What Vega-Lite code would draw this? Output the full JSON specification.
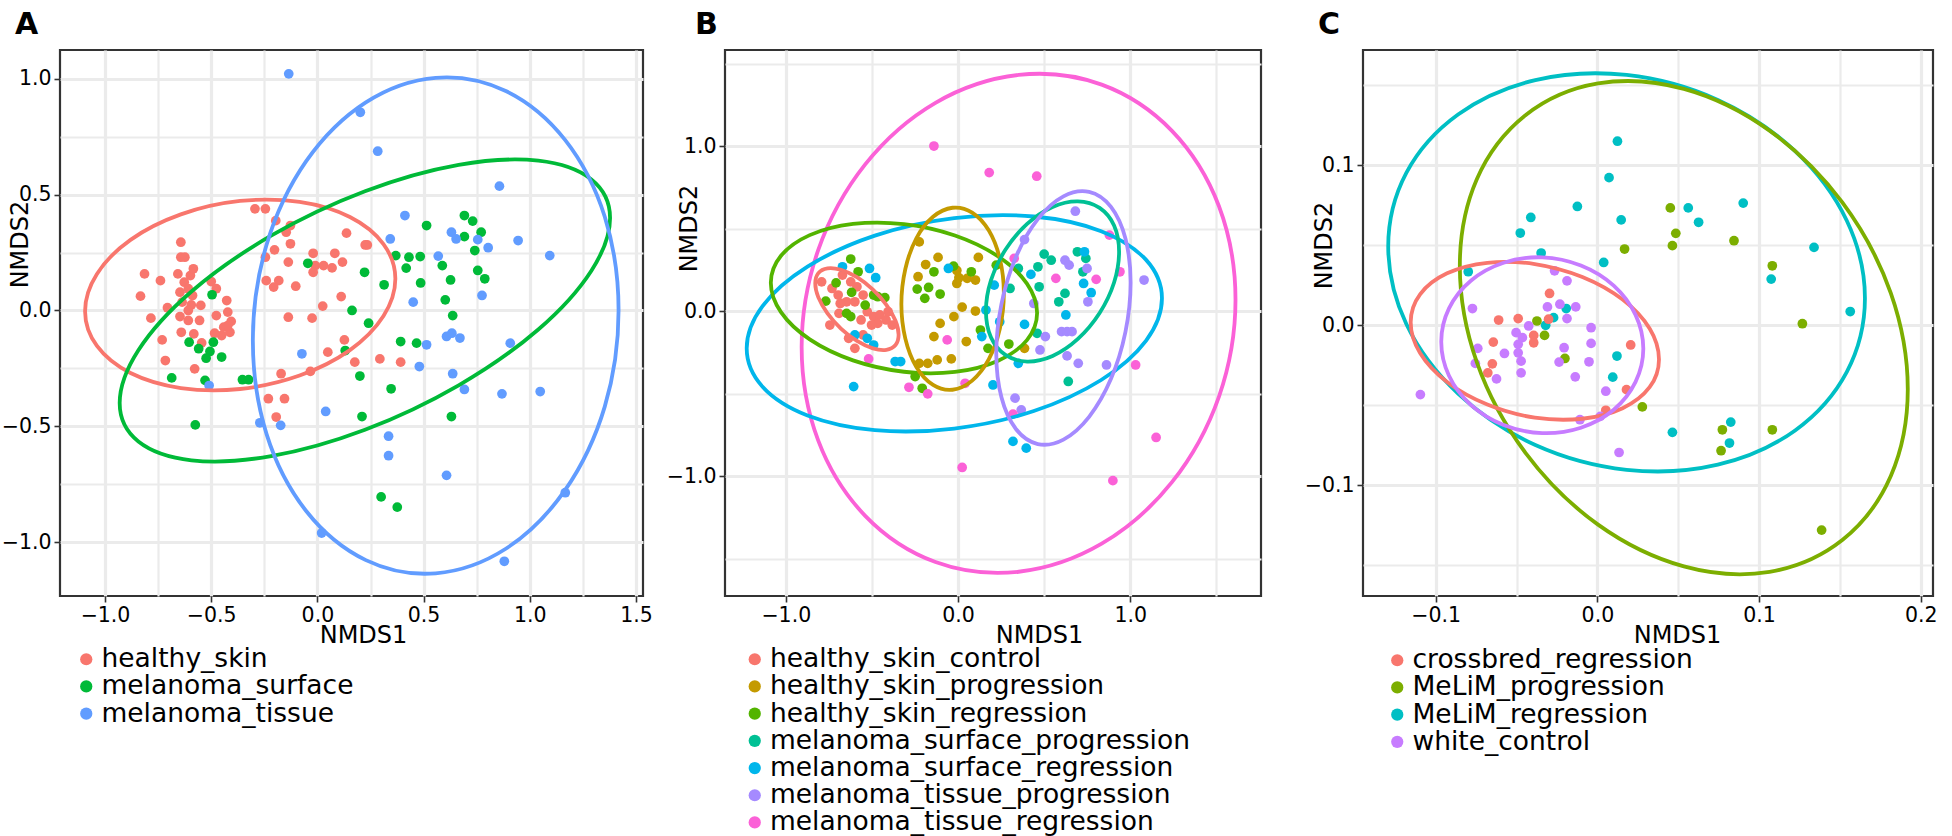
{
"$schema":"https://vega.github.io/schema/vega-lite/v6.json",
"padding":{"left":0,"top":8,"right":0,"bottom":0},
"config":{"font":"DejaVu Sans","view":{"stroke":"#333333","strokeWidth":2.2},
"axis":{"domain":false,"gridColor":"#EBEBEB","tickColor":"#333333","tickWidth":1.6,"tickSize":6,"labelFontSize":20.5,"labelColor":"#000000","titleFontSize":24,"titleFontWeight":"normal","titleColor":"#000000","labelPadding":3,"labelFlush":false,"labelOverlap":false},
"axisX":{"labelPadding":3},
"legend":{"labelFontSize":26.5,"symbolType":"circle","symbolSize":150,"rowPadding":0.2,"labelOffset":2,"padding":0,"labelColor":"#000000","symbolStrokeWidth":0,"symbolOpacity":1,"labelLimit":1000}},
"spacing":82,"bounds":"flush",
"resolve":{"scale":{"color":"independent","stroke":"independent","x":"independent","y":"independent"},"legend":{"color":"independent"}},
"hconcat":[
{"width":583,"height":546,
"title":{"text":"A","anchor":"start","frame":"group","dx":-45,"offset":10,"fontSize":30,"fontWeight":"bold","color":"#000000"},
"layer":[
{"data":{"name":"ptsA"},"mark":{"type":"point","filled":true,"opacity":1,"size":95},
"encoding":{
"x":{"field":"x","type":"quantitative","title":"NMDS1","scale":{"domain":[-1.212,1.533],"nice":false,"zero":false},
"axis":{"values":[-1,-0.75,-0.5,-0.25,0,0.25,0.5,0.75,1,1.25,1.5],"format":".1f","labelExpr":"abs(datum.value*2-round(datum.value*2))<0.001 ? datum.label : ''","gridWidth":{"condition":{"test":"abs(datum.value*2-round(datum.value*2))<0.001","value":3.2},"value":2.2},"tickOpacity":{"condition":{"test":"abs(datum.value*2-round(datum.value*2))<0.001","value":1},"value":0},"titleX":303,"titleY":46,"titleBaseline":"alphabetic"}},
"y":{"field":"y","type":"quantitative","title":"NMDS2","scale":{"domain":[-1.233,1.125],"nice":false,"zero":false},
"axis":{"values":[-1,-0.75,-0.5,-0.25,0,0.25,0.5,0.75,1],"format":".1f","labelExpr":"abs(datum.value*2-round(datum.value*2))<0.001 ? datum.label : ''","gridWidth":{"condition":{"test":"abs(datum.value*2-round(datum.value*2))<0.001","value":3.2},"value":2.2},"tickOpacity":{"condition":{"test":"abs(datum.value*2-round(datum.value*2))<0.001","value":1},"value":0},"titleX":-40,"titleY":194,"titleAngle":270,"titleBaseline":"middle"}},
"color":{"field":"group","type":"nominal","scale":{"domain":["healthy_skin","melanoma_surface","melanoma_tissue"],"range":["#F8766D","#00BA38","#619CFF"]},"legend":{"title":null,"orient":"none","legendX":13,"legendY":596}}}},
{"data":{"name":"ellA"},"mark":{"type":"line","interpolate":"cardinal-closed","strokeWidth":3.8,"clip":true},
"encoding":{"x":{"field":"x","type":"quantitative","title":"NMDS1"},"y":{"field":"y","type":"quantitative","title":"NMDS2"},
"stroke":{"field":"group","type":"nominal","scale":{"domain":["healthy_skin","melanoma_surface","melanoma_tissue"],"range":["#F8766D","#00BA38","#619CFF"]},"legend":null},
"order":{"field":"i","type":"quantitative"}}}
]},
{"hconcat":[
{"width":536,"height":546,
"title":{"text":"B","anchor":"start","frame":"group","dx":-30,"offset":10,"fontSize":30,"fontWeight":"bold","color":"#000000"},
"layer":[
{"data":{"name":"ptsB"},"mark":{"type":"point","filled":true,"opacity":1,"size":95},
"encoding":{
"x":{"field":"x","type":"quantitative","title":"NMDS1","scale":{"domain":[-1.353,1.759],"nice":false,"zero":false},
"axis":{"values":[-1,-0.5,0,0.5,1,1.5],"format":".1f","labelExpr":"abs(datum.value-round(datum.value))<0.001 ? datum.label : ''","gridWidth":{"condition":{"test":"abs(datum.value-round(datum.value))<0.001","value":3.2},"value":2.2},"tickOpacity":{"condition":{"test":"abs(datum.value-round(datum.value))<0.001","value":1},"value":0},"titleX":314,"titleY":46,"titleBaseline":"alphabetic"}},
"y":{"field":"y","type":"quantitative","title":"NMDS2","scale":{"domain":[-1.727,1.582],"nice":false,"zero":false},
"axis":{"values":[-1.5,-1,-0.5,0,0.5,1,1.5],"format":".1f","labelExpr":"abs(datum.value-round(datum.value))<0.001 ? datum.label : ''","gridWidth":{"condition":{"test":"abs(datum.value-round(datum.value))<0.001","value":3.2},"value":2.2},"tickOpacity":{"condition":{"test":"abs(datum.value-round(datum.value))<0.001","value":1},"value":0},"titleX":-36,"titleY":178,"titleAngle":270,"titleBaseline":"middle"}},
"color":{"field":"group","type":"nominal","scale":{"domain":["healthy_skin_control","healthy_skin_progression","healthy_skin_regression","melanoma_surface_progression","melanoma_surface_regression","melanoma_tissue_progression","melanoma_tissue_regression"],"range":["#F8766D","#C49A00","#53B400","#00C094","#00B6EB","#A58AFF","#FB61D7"]},"legend":{"title":null,"orient":"none","legendX":16.5,"legendY":596}}}},
{"data":{"name":"ellB"},"mark":{"type":"line","interpolate":"cardinal-closed","strokeWidth":3.8,"clip":true},
"encoding":{"x":{"field":"x","type":"quantitative","title":"NMDS1"},"y":{"field":"y","type":"quantitative","title":"NMDS2"},
"stroke":{"field":"group","type":"nominal","scale":{"domain":["healthy_skin_control","healthy_skin_progression","healthy_skin_regression","melanoma_surface_progression","melanoma_surface_regression","melanoma_tissue_progression","melanoma_tissue_regression"],"range":["#F8766D","#C49A00","#53B400","#00C094","#00B6EB","#A58AFF","#FB61D7"]},"legend":null},
"order":{"field":"i","type":"quantitative"}}}
]},
{"width":570,"height":546,
"title":{"text":"C","anchor":"start","frame":"group","dx":-45,"offset":10,"fontSize":30,"fontWeight":"bold","color":"#000000"},
"layer":[
{"data":{"name":"ptsC"},"mark":{"type":"point","filled":true,"opacity":1,"size":95},
"encoding":{
"x":{"field":"x","type":"quantitative","title":"NMDS1","scale":{"domain":[-0.145,0.2076],"nice":false,"zero":false},
"axis":{"values":[-0.1,-0.05,0,0.05,0.1,0.15,0.2],"format":".1f","labelExpr":"abs(datum.value*10-round(datum.value*10))<0.001 ? datum.label : ''","gridWidth":{"condition":{"test":"abs(datum.value*10-round(datum.value*10))<0.001","value":3.2},"value":2.2},"tickOpacity":{"condition":{"test":"abs(datum.value*10-round(datum.value*10))<0.001","value":1},"value":0},"titleX":314,"titleY":46,"titleBaseline":"alphabetic"}},
"y":{"field":"y","type":"quantitative","title":"NMDS2","scale":{"domain":[-0.1692,0.1721],"nice":false,"zero":false},
"axis":{"values":[-0.15,-0.1,-0.05,0,0.05,0.1,0.15],"format":".1f","labelExpr":"abs(datum.value*10-round(datum.value*10))<0.001 ? datum.label : ''","gridWidth":{"condition":{"test":"abs(datum.value*10-round(datum.value*10))<0.001","value":3.2},"value":2.2},"tickOpacity":{"condition":{"test":"abs(datum.value*10-round(datum.value*10))<0.001","value":1},"value":0},"titleX":-39,"titleY":195,"titleAngle":270,"titleBaseline":"middle"}},
"color":{"field":"group","type":"nominal","scale":{"domain":["crossbred_regression","MeLiM_progression","MeLiM_regression","white_control"],"range":["#F8766D","#7CAE00","#00BFC4","#C77CFF"]},"legend":{"title":null,"orient":"none","legendX":21,"legendY":597}}}},
{"data":{"name":"ellC"},"mark":{"type":"line","interpolate":"cardinal-closed","strokeWidth":3.8,"clip":true},
"encoding":{"x":{"field":"x","type":"quantitative","title":"NMDS1"},"y":{"field":"y","type":"quantitative","title":"NMDS2"},
"stroke":{"field":"group","type":"nominal","scale":{"domain":["crossbred_regression","MeLiM_progression","MeLiM_regression","white_control"],"range":["#F8766D","#7CAE00","#00BFC4","#C77CFF"]},"legend":null},
"order":{"field":"i","type":"quantitative"}}}
]}
],"spacing":102,"bounds":"flush",
"resolve":{"scale":{"color":"independent","stroke":"independent","x":"independent","y":"independent"},"legend":{"color":"independent"}}}
],
"datasets":{
"ptsA":[
{"group":"healthy_skin","x":-0.294,"y":0.439},{"group":"healthy_skin","x":-0.245,"y":0.439},{"group":"healthy_skin","x":-0.196,"y":0.388},{"group":"healthy_skin","x":-0.147,"y":0.338},{"group":"healthy_skin","x":-0.127,"y":0.367},{"group":"healthy_skin","x":-0.127,"y":0.288},{"group":"healthy_skin","x":0.137,"y":0.334},{"group":"healthy_skin","x":0.235,"y":0.283},{"group":"healthy_skin","x":0.225,"y":0.283},{"group":"healthy_skin","x":-0.202,"y":0.262},{"group":"healthy_skin","x":-0.245,"y":0.23},{"group":"healthy_skin","x":-0.02,"y":0.247},{"group":"healthy_skin","x":0.082,"y":0.247},{"group":"healthy_skin","x":-0.137,"y":0.209},{"group":"healthy_skin","x":-0.01,"y":0.194},{"group":"healthy_skin","x":0.029,"y":0.194},{"group":"healthy_skin","x":0.069,"y":0.184},{"group":"healthy_skin","x":0.118,"y":0.209},{"group":"healthy_skin","x":-0.02,"y":0.165},{"group":"healthy_skin","x":-0.241,"y":0.129},{"group":"healthy_skin","x":-0.182,"y":0.129},{"group":"healthy_skin","x":-0.206,"y":0.101},{"group":"healthy_skin","x":-0.102,"y":0.105},{"group":"healthy_skin","x":0.112,"y":0.06},{"group":"healthy_skin","x":0.025,"y":0.019},{"group":"healthy_skin","x":-0.137,"y":-0.029},{"group":"healthy_skin","x":-0.025,"y":-0.033},{"group":"healthy_skin","x":0.127,"y":-0.127},{"group":"healthy_skin","x":0.049,"y":-0.18},{"group":"healthy_skin","x":0.176,"y":-0.223},{"group":"healthy_skin","x":0.294,"y":-0.209},{"group":"healthy_skin","x":0.392,"y":-0.223},{"group":"healthy_skin","x":-0.033,"y":-0.263},{"group":"healthy_skin","x":-0.171,"y":-0.273},{"group":"healthy_skin","x":-0.231,"y":-0.381},{"group":"healthy_skin","x":-0.155,"y":-0.381},{"group":"healthy_skin","x":-0.194,"y":-0.46},
{"group":"healthy_skin","x":-0.643,"y":0.295},{"group":"healthy_skin","x":-0.643,"y":0.23},{"group":"healthy_skin","x":-0.624,"y":0.23},{"group":"healthy_skin","x":-0.814,"y":0.158},{"group":"healthy_skin","x":-0.739,"y":0.129},{"group":"healthy_skin","x":-0.657,"y":0.158},{"group":"healthy_skin","x":-0.598,"y":0.151},{"group":"healthy_skin","x":-0.584,"y":0.18},{"group":"healthy_skin","x":-0.627,"y":0.122},{"group":"healthy_skin","x":-0.608,"y":0.094},{"group":"healthy_skin","x":-0.647,"y":0.079},{"group":"healthy_skin","x":-0.588,"y":0.065},{"group":"healthy_skin","x":-0.833,"y":0.062},{"group":"healthy_skin","x":-0.706,"y":0.012},{"group":"healthy_skin","x":-0.637,"y":0.036},{"group":"healthy_skin","x":-0.594,"y":0.024},{"group":"healthy_skin","x":-0.549,"y":0.022},{"group":"healthy_skin","x":-0.608,"y":0.0},{"group":"healthy_skin","x":-0.5,"y":0.125},{"group":"healthy_skin","x":-0.476,"y":0.094},{"group":"healthy_skin","x":-0.427,"y":0.043},{"group":"healthy_skin","x":-0.784,"y":-0.033},{"group":"healthy_skin","x":-0.647,"y":-0.026},{"group":"healthy_skin","x":-0.608,"y":-0.043},{"group":"healthy_skin","x":-0.555,"y":-0.043},{"group":"healthy_skin","x":-0.476,"y":-0.022},{"group":"healthy_skin","x":-0.422,"y":-0.007},{"group":"healthy_skin","x":-0.406,"y":-0.047},{"group":"healthy_skin","x":-0.441,"y":-0.072},{"group":"healthy_skin","x":-0.412,"y":-0.094},{"group":"healthy_skin","x":-0.451,"y":-0.108},{"group":"healthy_skin","x":-0.641,"y":-0.094},{"group":"healthy_skin","x":-0.582,"y":-0.101},{"group":"healthy_skin","x":-0.484,"y":-0.098},{"group":"healthy_skin","x":-0.731,"y":-0.127},{"group":"healthy_skin","x":-0.545,"y":-0.14},{"group":"healthy_skin","x":-0.716,"y":-0.216},{"group":"healthy_skin","x":-0.578,"y":-0.252},{"group":"healthy_skin","x":-0.422,"y":-0.065},
{"group":"melanoma_surface","x":0.692,"y":0.41},{"group":"melanoma_surface","x":0.731,"y":0.386},{"group":"melanoma_surface","x":0.771,"y":0.338},{"group":"melanoma_surface","x":0.692,"y":0.319},{"group":"melanoma_surface","x":0.514,"y":0.367},{"group":"melanoma_surface","x":0.369,"y":0.237},{"group":"melanoma_surface","x":0.431,"y":0.23},{"group":"melanoma_surface","x":0.484,"y":0.233},{"group":"melanoma_surface","x":0.588,"y":0.194},{"group":"melanoma_surface","x":0.418,"y":0.183},{"group":"melanoma_surface","x":0.741,"y":0.259},{"group":"melanoma_surface","x":0.755,"y":0.173},{"group":"melanoma_surface","x":0.788,"y":0.137},{"group":"melanoma_surface","x":0.627,"y":0.132},{"group":"melanoma_surface","x":0.486,"y":0.119},{"group":"melanoma_surface","x":0.222,"y":0.165},{"group":"melanoma_surface","x":-0.045,"y":0.204},{"group":"melanoma_surface","x":0.314,"y":0.111},{"group":"melanoma_surface","x":0.602,"y":0.046},{"group":"melanoma_surface","x":0.163,"y":0.0},{"group":"melanoma_surface","x":0.637,"y":-0.022},{"group":"melanoma_surface","x":0.241,"y":-0.055},{"group":"melanoma_surface","x":-0.496,"y":0.068},{"group":"melanoma_surface","x":0.392,"y":-0.134},{"group":"melanoma_surface","x":0.467,"y":-0.141},{"group":"melanoma_surface","x":0.131,"y":-0.173},{"group":"melanoma_surface","x":-0.604,"y":-0.137},{"group":"melanoma_surface","x":-0.559,"y":-0.165},{"group":"melanoma_surface","x":-0.49,"y":-0.137},{"group":"melanoma_surface","x":-0.506,"y":-0.177},{"group":"melanoma_surface","x":-0.524,"y":-0.206},{"group":"melanoma_surface","x":-0.451,"y":-0.201},{"group":"melanoma_surface","x":0.2,"y":-0.283},{"group":"melanoma_surface","x":-0.686,"y":-0.291},{"group":"melanoma_surface","x":-0.529,"y":-0.302},{"group":"melanoma_surface","x":-0.353,"y":-0.299},{"group":"melanoma_surface","x":-0.324,"y":-0.299},{"group":"melanoma_surface","x":0.347,"y":-0.338},{"group":"melanoma_surface","x":0.21,"y":-0.458},{"group":"melanoma_surface","x":0.631,"y":-0.458},{"group":"melanoma_surface","x":-0.575,"y":-0.494},{"group":"melanoma_surface","x":0.3,"y":-0.805},{"group":"melanoma_surface","x":0.376,"y":-0.849},
{"group":"melanoma_tissue","x":-0.135,"y":1.022},{"group":"melanoma_tissue","x":0.202,"y":0.856},{"group":"melanoma_tissue","x":0.284,"y":0.688},{"group":"melanoma_tissue","x":0.857,"y":0.537},{"group":"melanoma_tissue","x":0.412,"y":0.41},{"group":"melanoma_tissue","x":0.343,"y":0.309},{"group":"melanoma_tissue","x":0.631,"y":0.338},{"group":"melanoma_tissue","x":0.653,"y":0.309},{"group":"melanoma_tissue","x":0.755,"y":0.306},{"group":"melanoma_tissue","x":0.804,"y":0.271},{"group":"melanoma_tissue","x":0.945,"y":0.302},{"group":"melanoma_tissue","x":1.094,"y":0.237},{"group":"melanoma_tissue","x":0.569,"y":0.235},{"group":"melanoma_tissue","x":0.775,"y":0.065},{"group":"melanoma_tissue","x":0.451,"y":0.036},{"group":"melanoma_tissue","x":0.608,"y":-0.112},{"group":"melanoma_tissue","x":0.633,"y":-0.098},{"group":"melanoma_tissue","x":0.671,"y":-0.119},{"group":"melanoma_tissue","x":0.514,"y":-0.148},{"group":"melanoma_tissue","x":0.908,"y":-0.141},{"group":"melanoma_tissue","x":-0.073,"y":-0.187},{"group":"melanoma_tissue","x":0.48,"y":-0.242},{"group":"melanoma_tissue","x":0.637,"y":-0.273},{"group":"melanoma_tissue","x":0.692,"y":-0.341},{"group":"melanoma_tissue","x":0.869,"y":-0.36},{"group":"melanoma_tissue","x":1.049,"y":-0.35},{"group":"melanoma_tissue","x":-0.51,"y":-0.324},{"group":"melanoma_tissue","x":0.039,"y":-0.436},{"group":"melanoma_tissue","x":-0.271,"y":-0.485},{"group":"melanoma_tissue","x":-0.173,"y":-0.496},{"group":"melanoma_tissue","x":0.335,"y":-0.543},{"group":"melanoma_tissue","x":0.335,"y":-0.627},{"group":"melanoma_tissue","x":0.608,"y":-0.712},{"group":"melanoma_tissue","x":1.167,"y":-0.787},{"group":"melanoma_tissue","x":0.02,"y":-0.961},{"group":"melanoma_tissue","x":0.88,"y":-1.083}
],
"ellA":[
{"group":"healthy_skin","i":0,"x":0.367,"y":0.137},{"group":"healthy_skin","i":1,"x":0.311,"y":0.287},{"group":"healthy_skin","i":2,"x":0.153,"y":0.404},{"group":"healthy_skin","i":3,"x":-0.084,"y":0.469},{"group":"healthy_skin","i":4,"x":-0.364,"y":0.473},{"group":"healthy_skin","i":5,"x":-0.643,"y":0.415},{"group":"healthy_skin","i":6,"x":-0.88,"y":0.305},{"group":"healthy_skin","i":7,"x":-1.038,"y":0.158},{"group":"healthy_skin","i":8,"x":-1.094,"y":-0.003},{"group":"healthy_skin","i":9,"x":-1.038,"y":-0.153},{"group":"healthy_skin","i":10,"x":-0.88,"y":-0.27},{"group":"healthy_skin","i":11,"x":-0.643,"y":-0.335},{"group":"healthy_skin","i":12,"x":-0.364,"y":-0.339},{"group":"healthy_skin","i":13,"x":-0.084,"y":-0.281},{"group":"healthy_skin","i":14,"x":0.153,"y":-0.171},{"group":"healthy_skin","i":15,"x":0.311,"y":-0.024},
{"group":"melanoma_surface","i":0,"x":1.378,"y":0.4},{"group":"melanoma_surface","i":1,"x":1.29,"y":0.566},{"group":"melanoma_surface","i":2,"x":1.04,"y":0.647},{"group":"melanoma_surface","i":3,"x":0.665,"y":0.629},{"group":"melanoma_surface","i":4,"x":0.224,"y":0.515},{"group":"melanoma_surface","i":5,"x":-0.218,"y":0.323},{"group":"melanoma_surface","i":6,"x":-0.593,"y":0.082},{"group":"melanoma_surface","i":7,"x":-0.843,"y":-0.172},{"group":"melanoma_surface","i":8,"x":-0.931,"y":-0.4},{"group":"melanoma_surface","i":9,"x":-0.843,"y":-0.566},{"group":"melanoma_surface","i":10,"x":-0.593,"y":-0.647},{"group":"melanoma_surface","i":11,"x":-0.218,"y":-0.629},{"group":"melanoma_surface","i":12,"x":0.224,"y":-0.515},{"group":"melanoma_surface","i":13,"x":0.665,"y":-0.323},{"group":"melanoma_surface","i":14,"x":1.04,"y":-0.082},{"group":"melanoma_surface","i":15,"x":1.29,"y":0.172},
{"group":"melanoma_tissue","i":0,"x":1.418,"y":0.0},{"group":"melanoma_tissue","i":1,"x":1.353,"y":0.405},{"group":"melanoma_tissue","i":2,"x":1.166,"y":0.737},{"group":"melanoma_tissue","i":3,"x":0.887,"y":0.948},{"group":"melanoma_tissue","i":4,"x":0.557,"y":1.005},{"group":"melanoma_tissue","i":5,"x":0.228,"y":0.899},{"group":"melanoma_tissue","i":6,"x":-0.052,"y":0.646},{"group":"melanoma_tissue","i":7,"x":-0.239,"y":0.285},{"group":"melanoma_tissue","i":8,"x":-0.304,"y":-0.13},{"group":"melanoma_tissue","i":9,"x":-0.239,"y":-0.535},{"group":"melanoma_tissue","i":10,"x":-0.052,"y":-0.867},{"group":"melanoma_tissue","i":11,"x":0.228,"y":-1.078},{"group":"melanoma_tissue","i":12,"x":0.557,"y":-1.135},{"group":"melanoma_tissue","i":13,"x":0.887,"y":-1.029},{"group":"melanoma_tissue","i":14,"x":1.166,"y":-0.776},{"group":"melanoma_tissue","i":15,"x":1.353,"y":-0.415}
],
"ptsB":[
{"group":"healthy_skin_control","x":-0.792,"y":0.177},{"group":"healthy_skin_control","x":-0.732,"y":0.137},{"group":"healthy_skin_control","x":-0.671,"y":0.218},{"group":"healthy_skin_control","x":-0.623,"y":0.177},{"group":"healthy_skin_control","x":-0.587,"y":0.147},{"group":"healthy_skin_control","x":-0.696,"y":0.097},{"group":"healthy_skin_control","x":-0.647,"y":0.056},{"group":"healthy_skin_control","x":-0.599,"y":0.056},{"group":"healthy_skin_control","x":-0.551,"y":0.097},{"group":"healthy_skin_control","x":-0.684,"y":0.046},{"group":"healthy_skin_control","x":-0.527,"y":-0.004},{"group":"healthy_skin_control","x":-0.49,"y":-0.034},{"group":"healthy_skin_control","x":-0.454,"y":-0.024},{"group":"healthy_skin_control","x":-0.418,"y":-0.054},{"group":"healthy_skin_control","x":-0.466,"y":-0.075},{"group":"healthy_skin_control","x":-0.406,"y":-0.004},{"group":"healthy_skin_control","x":-0.502,"y":-0.085},{"group":"healthy_skin_control","x":-0.563,"y":-0.054},{"group":"healthy_skin_control","x":-0.744,"y":-0.085},{"group":"healthy_skin_control","x":-0.599,"y":-0.226},{"group":"healthy_skin_control","x":-0.635,"y":-0.165},{"group":"healthy_skin_control","x":-0.551,"y":-0.145},{"group":"healthy_skin_control","x":-0.691,"y":-0.014},{"group":"healthy_skin_control","x":-0.382,"y":-0.085},
{"group":"healthy_skin_progression","x":-0.225,"y":0.419},{"group":"healthy_skin_progression","x":-0.188,"y":0.282},{"group":"healthy_skin_progression","x":-0.116,"y":0.325},{"group":"healthy_skin_progression","x":-0.232,"y":0.208},{"group":"healthy_skin_progression","x":-0.007,"y":0.167},{"group":"healthy_skin_progression","x":0.005,"y":0.202},{"group":"healthy_skin_progression","x":0.053,"y":0.198},{"group":"healthy_skin_progression","x":0.101,"y":0.188},{"group":"healthy_skin_progression","x":-0.007,"y":0.246},{"group":"healthy_skin_progression","x":0.118,"y":0.325},{"group":"healthy_skin_progression","x":0.024,"y":0.024},{"group":"healthy_skin_progression","x":0.101,"y":0.0},{"group":"healthy_skin_progression","x":-0.024,"y":-0.034},{"group":"healthy_skin_progression","x":-0.104,"y":-0.075},{"group":"healthy_skin_progression","x":-0.14,"y":-0.155},{"group":"healthy_skin_progression","x":0.048,"y":-0.185},{"group":"healthy_skin_progression","x":0.386,"y":-0.226},{"group":"healthy_skin_progression","x":-0.225,"y":-0.317},{"group":"healthy_skin_progression","x":-0.176,"y":-0.317},{"group":"healthy_skin_progression","x":-0.121,"y":-0.296},{"group":"healthy_skin_progression","x":-0.039,"y":-0.29},
{"group":"healthy_skin_regression","x":-0.623,"y":0.315},{"group":"healthy_skin_regression","x":-0.708,"y":0.171},{"group":"healthy_skin_regression","x":-0.768,"y":0.06},{"group":"healthy_skin_regression","x":-0.618,"y":0.113},{"group":"healthy_skin_regression","x":-0.58,"y":0.238},{"group":"healthy_skin_regression","x":-0.647,"y":-0.014},{"group":"healthy_skin_regression","x":-0.623,"y":-0.034},{"group":"healthy_skin_regression","x":-0.539,"y":0.036},{"group":"healthy_skin_regression","x":-0.49,"y":0.097},{"group":"healthy_skin_regression","x":-0.466,"y":0.087},{"group":"healthy_skin_regression","x":-0.237,"y":0.133},{"group":"healthy_skin_regression","x":-0.171,"y":0.143},{"group":"healthy_skin_regression","x":-0.193,"y":0.077},{"group":"healthy_skin_regression","x":-0.104,"y":0.103},{"group":"healthy_skin_regression","x":-0.14,"y":0.238},{"group":"healthy_skin_regression","x":-0.026,"y":0.272},{"group":"healthy_skin_regression","x":0.077,"y":0.238},{"group":"healthy_skin_regression","x":0.222,"y":0.278},{"group":"healthy_skin_regression","x":0.13,"y":-0.115},{"group":"healthy_skin_regression","x":0.174,"y":-0.226},{"group":"healthy_skin_regression","x":0.295,"y":-0.2},{"group":"healthy_skin_regression","x":-0.249,"y":-0.397},{"group":"healthy_skin_regression","x":-0.208,"y":-0.468},{"group":"healthy_skin_regression","x":-0.425,"y":0.081},
{"group":"melanoma_surface_progression","x":0.5,"y":0.345},{"group":"melanoma_surface_progression","x":0.541,"y":0.308},{"group":"melanoma_surface_progression","x":0.693,"y":0.359},{"group":"melanoma_surface_progression","x":0.742,"y":0.319},{"group":"melanoma_surface_progression","x":0.725,"y":0.238},{"group":"melanoma_surface_progression","x":0.464,"y":0.268},{"group":"melanoma_surface_progression","x":0.35,"y":0.258},{"group":"melanoma_surface_progression","x":0.471,"y":0.147},{"group":"melanoma_surface_progression","x":0.302,"y":0.137},{"group":"melanoma_surface_progression","x":0.621,"y":0.107},{"group":"melanoma_surface_progression","x":0.585,"y":0.056},{"group":"melanoma_surface_progression","x":0.459,"y":-0.135},{"group":"melanoma_surface_progression","x":0.64,"y":-0.427},
{"group":"melanoma_surface_regression","x":-0.671,"y":0.268},{"group":"melanoma_surface_regression","x":-0.514,"y":0.258},{"group":"melanoma_surface_regression","x":-0.478,"y":0.202},{"group":"melanoma_surface_regression","x":-0.056,"y":0.258},{"group":"melanoma_surface_regression","x":0.21,"y":0.157},{"group":"melanoma_surface_regression","x":0.423,"y":0.222},{"group":"melanoma_surface_regression","x":0.734,"y":0.359},{"group":"melanoma_surface_regression","x":0.729,"y":0.167},{"group":"melanoma_surface_regression","x":0.773,"y":0.111},{"group":"melanoma_surface_regression","x":0.626,"y":-0.024},{"group":"melanoma_surface_regression","x":0.386,"y":-0.081},{"group":"melanoma_surface_regression","x":0.162,"y":0.006},{"group":"melanoma_surface_regression","x":0.242,"y":-0.065},{"group":"melanoma_surface_regression","x":0.138,"y":-0.155},{"group":"melanoma_surface_regression","x":-0.599,"y":-0.145},{"group":"melanoma_surface_regression","x":-0.527,"y":-0.165},{"group":"melanoma_surface_regression","x":-0.49,"y":-0.206},{"group":"melanoma_surface_regression","x":-0.365,"y":-0.306},{"group":"melanoma_surface_regression","x":-0.333,"y":-0.306},{"group":"melanoma_surface_regression","x":-0.606,"y":-0.458},{"group":"melanoma_surface_regression","x":0.203,"y":-0.448},{"group":"melanoma_surface_regression","x":0.319,"y":-0.79},{"group":"melanoma_surface_regression","x":0.396,"y":-0.831},{"group":"melanoma_surface_regression","x":0.35,"y":-0.317},
{"group":"melanoma_tissue_progression","x":0.681,"y":0.605},{"group":"melanoma_tissue_progression","x":0.386,"y":0.433},{"group":"melanoma_tissue_progression","x":0.621,"y":0.308},{"group":"melanoma_tissue_progression","x":0.645,"y":0.278},{"group":"melanoma_tissue_progression","x":0.749,"y":0.258},{"group":"melanoma_tissue_progression","x":1.08,"y":0.188},{"group":"melanoma_tissue_progression","x":0.44,"y":0.046},{"group":"melanoma_tissue_progression","x":0.754,"y":0.056},{"group":"melanoma_tissue_progression","x":0.601,"y":-0.125},{"group":"melanoma_tissue_progression","x":0.633,"y":-0.125},{"group":"melanoma_tissue_progression","x":0.662,"y":-0.125},{"group":"melanoma_tissue_progression","x":0.507,"y":-0.155},{"group":"melanoma_tissue_progression","x":0.476,"y":-0.236},{"group":"melanoma_tissue_progression","x":0.633,"y":-0.272},{"group":"melanoma_tissue_progression","x":0.698,"y":-0.317},{"group":"melanoma_tissue_progression","x":0.862,"y":-0.327},{"group":"melanoma_tissue_progression","x":0.331,"y":-0.528},{"group":"melanoma_tissue_progression","x":0.367,"y":-0.599},
{"group":"melanoma_tissue_regression","x":-0.14,"y":1.0},{"group":"melanoma_tissue_regression","x":0.181,"y":0.839},{"group":"melanoma_tissue_regression","x":0.457,"y":0.817},{"group":"melanoma_tissue_regression","x":0.879,"y":0.46},{"group":"melanoma_tissue_regression","x":0.326,"y":0.319},{"group":"melanoma_tissue_regression","x":0.94,"y":0.238},{"group":"melanoma_tissue_regression","x":0.568,"y":0.198},{"group":"melanoma_tissue_regression","x":0.802,"y":0.192},{"group":"melanoma_tissue_regression","x":-0.063,"y":-0.175},{"group":"melanoma_tissue_regression","x":-0.519,"y":-0.29},{"group":"melanoma_tissue_regression","x":-0.285,"y":-0.462},{"group":"melanoma_tissue_regression","x":-0.176,"y":-0.502},{"group":"melanoma_tissue_regression","x":0.041,"y":-0.438},{"group":"melanoma_tissue_regression","x":1.031,"y":-0.327},{"group":"melanoma_tissue_regression","x":0.319,"y":-0.625},{"group":"melanoma_tissue_regression","x":0.024,"y":-0.948},{"group":"melanoma_tissue_regression","x":1.15,"y":-0.766},{"group":"melanoma_tissue_regression","x":0.899,"y":-1.028}
],
"ellB":[
{"group":"melanoma_tissue_regression","i":0,"x":1.611,"y":0.069},{"group":"melanoma_tissue_regression","i":1,"x":1.515,"y":0.635},{"group":"melanoma_tissue_regression","i":2,"x":1.242,"y":1.092},{"group":"melanoma_tissue_regression","i":3,"x":0.834,"y":1.372},{"group":"melanoma_tissue_regression","i":4,"x":0.352,"y":1.431},{"group":"melanoma_tissue_regression","i":5,"x":-0.131,"y":1.262},{"group":"melanoma_tissue_regression","i":6,"x":-0.539,"y":0.889},{"group":"melanoma_tissue_regression","i":7,"x":-0.812,"y":0.369},{"group":"melanoma_tissue_regression","i":8,"x":-0.908,"y":-0.218},{"group":"melanoma_tissue_regression","i":9,"x":-0.812,"y":-0.784},{"group":"melanoma_tissue_regression","i":10,"x":-0.539,"y":-1.241},{"group":"melanoma_tissue_regression","i":11,"x":-0.131,"y":-1.521},{"group":"melanoma_tissue_regression","i":12,"x":0.352,"y":-1.58},{"group":"melanoma_tissue_regression","i":13,"x":0.834,"y":-1.41},{"group":"melanoma_tissue_regression","i":14,"x":1.242,"y":-1.037},{"group":"melanoma_tissue_regression","i":15,"x":1.515,"y":-0.518},
{"group":"melanoma_surface_regression","i":0,"x":1.184,"y":0.077},{"group":"melanoma_surface_regression","i":1,"x":1.092,"y":0.31},{"group":"melanoma_surface_regression","i":2,"x":0.831,"y":0.484},{"group":"melanoma_surface_regression","i":3,"x":0.44,"y":0.573},{"group":"melanoma_surface_regression","i":4,"x":-0.022,"y":0.563},{"group":"melanoma_surface_regression","i":5,"x":-0.483,"y":0.457},{"group":"melanoma_surface_regression","i":6,"x":-0.874,"y":0.269},{"group":"melanoma_surface_regression","i":7,"x":-1.135,"y":0.03},{"group":"melanoma_surface_regression","i":8,"x":-1.227,"y":-0.226},{"group":"melanoma_surface_regression","i":9,"x":-1.135,"y":-0.459},{"group":"melanoma_surface_regression","i":10,"x":-0.874,"y":-0.633},{"group":"melanoma_surface_regression","i":11,"x":-0.483,"y":-0.722},{"group":"melanoma_surface_regression","i":12,"x":-0.022,"y":-0.712},{"group":"melanoma_surface_regression","i":13,"x":0.44,"y":-0.606},{"group":"melanoma_surface_regression","i":14,"x":0.831,"y":-0.418},{"group":"melanoma_surface_regression","i":15,"x":1.092,"y":-0.179},
{"group":"healthy_skin_regression","i":0,"x":0.459,"y":-0.012},{"group":"healthy_skin_regression","i":1,"x":0.4,"y":0.166},{"group":"healthy_skin_regression","i":2,"x":0.233,"y":0.331},{"group":"healthy_skin_regression","i":3,"x":-0.018,"y":0.458},{"group":"healthy_skin_regression","i":4,"x":-0.314,"y":0.527},{"group":"healthy_skin_regression","i":5,"x":-0.61,"y":0.528},{"group":"healthy_skin_regression","i":6,"x":-0.861,"y":0.46},{"group":"healthy_skin_regression","i":7,"x":-1.028,"y":0.335},{"group":"healthy_skin_regression","i":8,"x":-1.087,"y":0.171},{"group":"healthy_skin_regression","i":9,"x":-1.028,"y":-0.007},{"group":"healthy_skin_regression","i":10,"x":-0.861,"y":-0.172},{"group":"healthy_skin_regression","i":11,"x":-0.61,"y":-0.299},{"group":"healthy_skin_regression","i":12,"x":-0.314,"y":-0.368},{"group":"healthy_skin_regression","i":13,"x":-0.018,"y":-0.369},{"group":"healthy_skin_regression","i":14,"x":0.233,"y":-0.301},{"group":"healthy_skin_regression","i":15,"x":0.4,"y":-0.176},
{"group":"healthy_skin_progression","i":0,"x":0.266,"y":0.108},{"group":"healthy_skin_progression","i":1,"x":0.243,"y":0.316},{"group":"healthy_skin_progression","i":2,"x":0.179,"y":0.488},{"group":"healthy_skin_progression","i":3,"x":0.082,"y":0.597},{"group":"healthy_skin_progression","i":4,"x":-0.032,"y":0.626},{"group":"healthy_skin_progression","i":5,"x":-0.145,"y":0.571},{"group":"healthy_skin_progression","i":6,"x":-0.242,"y":0.441},{"group":"healthy_skin_progression","i":7,"x":-0.306,"y":0.255},{"group":"healthy_skin_progression","i":8,"x":-0.329,"y":0.041},{"group":"healthy_skin_progression","i":9,"x":-0.306,"y":-0.167},{"group":"healthy_skin_progression","i":10,"x":-0.242,"y":-0.339},{"group":"healthy_skin_progression","i":11,"x":-0.145,"y":-0.448},{"group":"healthy_skin_progression","i":12,"x":-0.032,"y":-0.477},{"group":"healthy_skin_progression","i":13,"x":0.082,"y":-0.422},{"group":"healthy_skin_progression","i":14,"x":0.179,"y":-0.292},{"group":"healthy_skin_progression","i":15,"x":0.243,"y":-0.106},
{"group":"healthy_skin_control","i":0,"x":-0.345,"y":-0.144},{"group":"healthy_skin_control","i":1,"x":-0.363,"y":-0.059},{"group":"healthy_skin_control","i":2,"x":-0.416,"y":0.038},{"group":"healthy_skin_control","i":3,"x":-0.494,"y":0.13},{"group":"healthy_skin_control","i":4,"x":-0.587,"y":0.205},{"group":"healthy_skin_control","i":5,"x":-0.68,"y":0.25},{"group":"healthy_skin_control","i":6,"x":-0.758,"y":0.259},{"group":"healthy_skin_control","i":7,"x":-0.811,"y":0.23},{"group":"healthy_skin_control","i":8,"x":-0.829,"y":0.168},{"group":"healthy_skin_control","i":9,"x":-0.811,"y":0.083},{"group":"healthy_skin_control","i":10,"x":-0.758,"y":-0.014},{"group":"healthy_skin_control","i":11,"x":-0.68,"y":-0.106},{"group":"healthy_skin_control","i":12,"x":-0.587,"y":-0.181},{"group":"healthy_skin_control","i":13,"x":-0.494,"y":-0.226},{"group":"healthy_skin_control","i":14,"x":-0.416,"y":-0.235},{"group":"healthy_skin_control","i":15,"x":-0.363,"y":-0.206},
{"group":"melanoma_surface_progression","i":0,"x":0.935,"y":0.359},{"group":"melanoma_surface_progression","i":1,"x":0.906,"y":0.518},{"group":"melanoma_surface_progression","i":2,"x":0.822,"y":0.625},{"group":"melanoma_surface_progression","i":3,"x":0.696,"y":0.665},{"group":"melanoma_surface_progression","i":4,"x":0.549,"y":0.631},{"group":"melanoma_surface_progression","i":5,"x":0.401,"y":0.528},{"group":"melanoma_surface_progression","i":6,"x":0.275,"y":0.371},{"group":"melanoma_surface_progression","i":7,"x":0.191,"y":0.186},{"group":"melanoma_surface_progression","i":8,"x":0.162,"y":0.0},{"group":"melanoma_surface_progression","i":9,"x":0.191,"y":-0.159},{"group":"melanoma_surface_progression","i":10,"x":0.275,"y":-0.266},{"group":"melanoma_surface_progression","i":11,"x":0.401,"y":-0.306},{"group":"melanoma_surface_progression","i":12,"x":0.549,"y":-0.272},{"group":"melanoma_surface_progression","i":13,"x":0.696,"y":-0.169},{"group":"melanoma_surface_progression","i":14,"x":0.822,"y":-0.012},{"group":"melanoma_surface_progression","i":15,"x":0.906,"y":0.173},
{"group":"melanoma_tissue_progression","i":0,"x":1.002,"y":0.173},{"group":"melanoma_tissue_progression","i":1,"x":0.972,"y":0.439},{"group":"melanoma_tissue_progression","i":2,"x":0.888,"y":0.631},{"group":"melanoma_tissue_progression","i":3,"x":0.761,"y":0.722},{"group":"melanoma_tissue_progression","i":4,"x":0.612,"y":0.695},{"group":"melanoma_tissue_progression","i":5,"x":0.463,"y":0.557},{"group":"melanoma_tissue_progression","i":6,"x":0.336,"y":0.327},{"group":"melanoma_tissue_progression","i":7,"x":0.252,"y":0.042},{"group":"melanoma_tissue_progression","i":8,"x":0.222,"y":-0.257},{"group":"melanoma_tissue_progression","i":9,"x":0.252,"y":-0.523},{"group":"melanoma_tissue_progression","i":10,"x":0.336,"y":-0.715},{"group":"melanoma_tissue_progression","i":11,"x":0.463,"y":-0.806},{"group":"melanoma_tissue_progression","i":12,"x":0.612,"y":-0.779},{"group":"melanoma_tissue_progression","i":13,"x":0.761,"y":-0.641},{"group":"melanoma_tissue_progression","i":14,"x":0.888,"y":-0.411},{"group":"melanoma_tissue_progression","i":15,"x":0.972,"y":-0.126}
],
"ptsC":[
{"group":"MeLiM_regression","x":0.0124,"y":0.1151},{"group":"MeLiM_regression","x":0.0072,"y":0.0923},{"group":"MeLiM_regression","x":-0.0124,"y":0.0743},{"group":"MeLiM_regression","x":-0.0412,"y":0.0674},{"group":"MeLiM_regression","x":-0.0477,"y":0.0577},{"group":"MeLiM_regression","x":0.0147,"y":0.0659},{"group":"MeLiM_regression","x":0.0562,"y":0.0734},{"group":"MeLiM_regression","x":0.0626,"y":0.0644},{"group":"MeLiM_regression","x":0.0902,"y":0.0764},{"group":"MeLiM_regression","x":-0.0348,"y":0.0452},{"group":"MeLiM_regression","x":0.0039,"y":0.0393},{"group":"MeLiM_regression","x":0.134,"y":0.0487},{"group":"MeLiM_regression","x":0.1075,"y":0.0289},{"group":"MeLiM_regression","x":-0.0799,"y":0.0335},{"group":"MeLiM_regression","x":0.1564,"y":0.0086},{"group":"MeLiM_regression","x":-0.0193,"y":0.0105},{"group":"MeLiM_regression","x":-0.0271,"y":0.0048},{"group":"MeLiM_regression","x":-0.032,"y":0.0},{"group":"MeLiM_regression","x":0.0121,"y":-0.0192},{"group":"MeLiM_regression","x":0.0095,"y":-0.0324},{"group":"MeLiM_regression","x":0.0825,"y":-0.0605},{"group":"MeLiM_regression","x":0.0464,"y":-0.0669},{"group":"MeLiM_regression","x":0.0817,"y":-0.0736},
{"group":"MeLiM_progression","x":0.0451,"y":0.0734},{"group":"MeLiM_progression","x":0.0485,"y":0.0575},{"group":"MeLiM_progression","x":0.0464,"y":0.0498},{"group":"MeLiM_progression","x":0.0168,"y":0.0477},{"group":"MeLiM_progression","x":0.0845,"y":0.0529},{"group":"MeLiM_progression","x":0.1082,"y":0.0372},{"group":"MeLiM_progression","x":0.1268,"y":0.001},{"group":"MeLiM_progression","x":-0.0374,"y":0.0027},{"group":"MeLiM_progression","x":-0.0327,"y":-0.0063},{"group":"MeLiM_progression","x":-0.0201,"y":-0.0207},{"group":"MeLiM_progression","x":0.0278,"y":-0.051},{"group":"MeLiM_progression","x":0.0773,"y":-0.0653},{"group":"MeLiM_progression","x":0.1082,"y":-0.0653},{"group":"MeLiM_progression","x":0.0765,"y":-0.0784},{"group":"MeLiM_progression","x":0.1387,"y":-0.128},
{"group":"crossbred_regression","x":-0.0296,"y":0.0199},{"group":"crossbred_regression","x":-0.0611,"y":0.0033},{"group":"crossbred_regression","x":-0.049,"y":0.0042},{"group":"crossbred_regression","x":-0.0394,"y":-0.0063},{"group":"crossbred_regression","x":-0.0394,"y":-0.0109},{"group":"crossbred_regression","x":-0.0644,"y":-0.0105},{"group":"crossbred_regression","x":-0.065,"y":-0.0241},{"group":"crossbred_regression","x":-0.0678,"y":-0.0297},{"group":"crossbred_regression","x":0.0206,"y":-0.0123},{"group":"crossbred_regression","x":0.018,"y":-0.0402},{"group":"crossbred_regression","x":0.0052,"y":-0.0531},{"group":"crossbred_regression","x":-0.0302,"y":0.0038},
{"group":"white_control","x":-0.0265,"y":0.0341},{"group":"white_control","x":-0.0188,"y":0.0278},{"group":"white_control","x":-0.0773,"y":0.0105},{"group":"white_control","x":-0.0309,"y":0.0115},{"group":"white_control","x":-0.0232,"y":0.0132},{"group":"white_control","x":-0.0134,"y":0.0115},{"group":"white_control","x":-0.0188,"y":0.0042},{"group":"white_control","x":-0.0425,"y":-0.0004},{"group":"white_control","x":-0.0503,"y":-0.0046},{"group":"white_control","x":-0.0464,"y":-0.0077},{"group":"white_control","x":-0.049,"y":-0.0119},{"group":"white_control","x":-0.0039,"y":-0.0015},{"group":"white_control","x":-0.0039,"y":-0.0113},{"group":"white_control","x":-0.074,"y":-0.0144},{"group":"white_control","x":-0.0575,"y":-0.0176},{"group":"white_control","x":-0.049,"y":-0.0172},{"group":"white_control","x":-0.0472,"y":-0.0224},{"group":"white_control","x":-0.0472,"y":-0.0297},{"group":"white_control","x":-0.0206,"y":-0.014},{"group":"white_control","x":-0.0237,"y":-0.023},{"group":"white_control","x":-0.0052,"y":-0.0228},{"group":"white_control","x":-0.0755,"y":-0.0238},{"group":"white_control","x":-0.0624,"y":-0.0335},{"group":"white_control","x":-0.0137,"y":-0.0322},{"group":"white_control","x":0.0052,"y":-0.0412},{"group":"white_control","x":-0.1095,"y":-0.0433},{"group":"white_control","x":-0.0108,"y":-0.059},{"group":"white_control","x":0.0018,"y":-0.0569},{"group":"white_control","x":0.0134,"y":-0.0795}
],
"ellC":[
{"group":"MeLiM_regression","i":0,"x":0.1655,"y":0.0169},{"group":"MeLiM_regression","i":1,"x":0.1543,"y":0.0654},{"group":"MeLiM_regression","i":2,"x":0.1223,"y":0.1089},{"group":"MeLiM_regression","i":3,"x":0.0745,"y":0.1409},{"group":"MeLiM_regression","i":4,"x":0.0181,"y":0.1565},{"group":"MeLiM_regression","i":5,"x":-0.0384,"y":0.1533},{"group":"MeLiM_regression","i":6,"x":-0.0862,"y":0.1318},{"group":"MeLiM_regression","i":7,"x":-0.1182,"y":0.0953},{"group":"MeLiM_regression","i":8,"x":-0.1294,"y":0.0493},{"group":"MeLiM_regression","i":9,"x":-0.1182,"y":0.0008},{"group":"MeLiM_regression","i":10,"x":-0.0862,"y":-0.0427},{"group":"MeLiM_regression","i":11,"x":-0.0384,"y":-0.0748},{"group":"MeLiM_regression","i":12,"x":0.0181,"y":-0.0903},{"group":"MeLiM_regression","i":13,"x":0.0745,"y":-0.0871},{"group":"MeLiM_regression","i":14,"x":0.1223,"y":-0.0657},{"group":"MeLiM_regression","i":15,"x":0.1543,"y":-0.0291},
{"group":"MeLiM_progression","i":0,"x":0.192,"y":-0.04},{"group":"MeLiM_progression","i":1,"x":0.1815,"y":0.0201},{"group":"MeLiM_progression","i":2,"x":0.1515,"y":0.0768},{"group":"MeLiM_progression","i":3,"x":0.1065,"y":0.1217},{"group":"MeLiM_progression","i":4,"x":0.0535,"y":0.1478},{"group":"MeLiM_progression","i":5,"x":0.0004,"y":0.1512},{"group":"MeLiM_progression","i":6,"x":-0.0445,"y":0.1313},{"group":"MeLiM_progression","i":7,"x":-0.0746,"y":0.0913},{"group":"MeLiM_progression","i":8,"x":-0.0851,"y":0.0371},{"group":"MeLiM_progression","i":9,"x":-0.0746,"y":-0.023},{"group":"MeLiM_progression","i":10,"x":-0.0445,"y":-0.0797},{"group":"MeLiM_progression","i":11,"x":0.0004,"y":-0.1246},{"group":"MeLiM_progression","i":12,"x":0.0535,"y":-0.1507},{"group":"MeLiM_progression","i":13,"x":0.1065,"y":-0.1541},{"group":"MeLiM_progression","i":14,"x":0.1515,"y":-0.1342},{"group":"MeLiM_progression","i":15,"x":0.1815,"y":-0.0942},
{"group":"crossbred_regression","i":0,"x":0.0381,"y":-0.0213},{"group":"crossbred_regression","i":1,"x":0.0323,"y":-0.002},{"group":"crossbred_regression","i":2,"x":0.0156,"y":0.0161},{"group":"crossbred_regression","i":3,"x":-0.0093,"y":0.0302},{"group":"crossbred_regression","i":4,"x":-0.0387,"y":0.0383},{"group":"crossbred_regression","i":5,"x":-0.0681,"y":0.0391},{"group":"crossbred_regression","i":6,"x":-0.093,"y":0.0325},{"group":"crossbred_regression","i":7,"x":-0.1097,"y":0.0194},{"group":"crossbred_regression","i":8,"x":-0.1155,"y":0.0019},{"group":"crossbred_regression","i":9,"x":-0.1097,"y":-0.0173},{"group":"crossbred_regression","i":10,"x":-0.093,"y":-0.0354},{"group":"crossbred_regression","i":11,"x":-0.0681,"y":-0.0495},{"group":"crossbred_regression","i":12,"x":-0.0387,"y":-0.0577},{"group":"crossbred_regression","i":13,"x":-0.0093,"y":-0.0584},{"group":"crossbred_regression","i":14,"x":0.0156,"y":-0.0518},{"group":"crossbred_regression","i":15,"x":0.0323,"y":-0.0387},
{"group":"white_control","i":0,"x":0.0284,"y":-0.0147},{"group":"white_control","i":1,"x":0.0236,"y":0.0065},{"group":"white_control","i":2,"x":0.0101,"y":0.0248},{"group":"white_control","i":3,"x":-0.0102,"y":0.0374},{"group":"white_control","i":4,"x":-0.0341,"y":0.0425},{"group":"white_control","i":5,"x":-0.058,"y":0.0391},{"group":"white_control","i":6,"x":-0.0783,"y":0.0279},{"group":"white_control","i":7,"x":-0.0918,"y":0.0106},{"group":"white_control","i":8,"x":-0.0966,"y":-0.0102},{"group":"white_control","i":9,"x":-0.0918,"y":-0.0315},{"group":"white_control","i":10,"x":-0.0783,"y":-0.0497},{"group":"white_control","i":11,"x":-0.058,"y":-0.0623},{"group":"white_control","i":12,"x":-0.0341,"y":-0.0674},{"group":"white_control","i":13,"x":-0.0102,"y":-0.064},{"group":"white_control","i":14,"x":0.0101,"y":-0.0528},{"group":"white_control","i":15,"x":0.0236,"y":-0.0354}
]
}
}
